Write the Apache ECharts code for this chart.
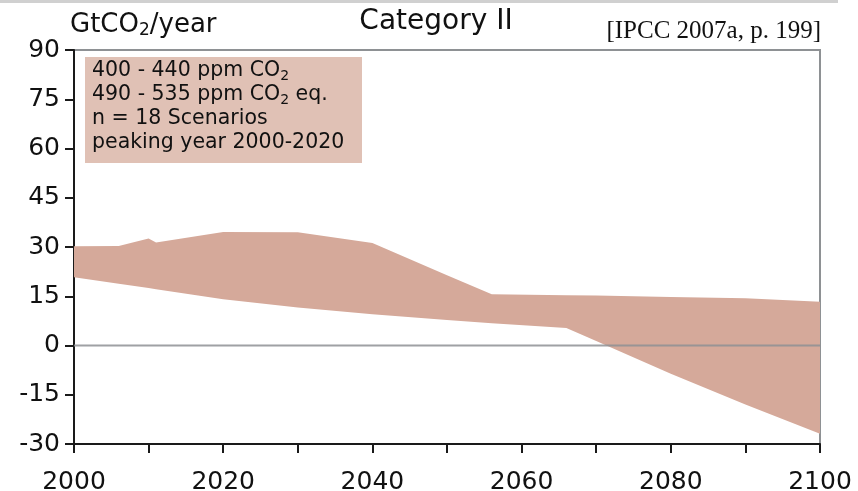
<!DOCTYPE html>
<html>
<head>
<meta charset="utf-8">
<script src="https://cdn.jsdelivr.net/npm/echarts@6/dist/echarts.min.js"></script>
<style>html,body{margin:0;padding:0;background:#fff}#c{width:858px;height:491px}</style>
</head>
<body>
<div id="c"></div>
<script>
const years = [2000, 2006, 2010, 2011, 2020, 2030, 2040, 2050, 2056, 2066, 2070, 2080, 2090, 2100];
const upper = [30.2, 30.3, 32.6, 31.4, 34.6, 34.5, 31.2, 21.4, 15.6, 15.3, 15.2, 14.8, 14.4, 13.3];
const lower = [20.8, 18.8, 17.5, 17.1, 14.1, 11.6, 9.5, 7.8, 6.8, 5.3, 1.4, -8.6, -18.0, -26.9];
const yTicks = [-30, -15, 0, 15, 30, 45, 60, 75, 90];
const xLabels = [2000, 2020, 2040, 2060, 2080, 2100];
const titleText = 'Category II';
const citation = '[IPCC 2007a, p. 199]';
const legendLines = ['400 - 440 ppm CO{s|2}', '490 - 535 ppm CO{s|2} eq.', 'n = 18 Scenarios', 'peaking year 2000-2020'];

const FONT = '"DejaVu Sans", sans-serif';
const BAND = '#d5a99a';
const bandData = years.map((y, i) => [y, lower[i], upper[i]]);

const chart = echarts.init(document.getElementById('c'), null, {renderer: 'canvas'});
chart.setOption({
  animation: false,
  grid: {left: 74, right: 38, top: 50, bottom: 47, show: true, borderColor: '#8e9194', borderWidth: 2,
    backgroundColor: 'transparent', containLabel: false, outerBoundsMode: 'none'},
  xAxis: {
    type: 'value', min: 2000, max: 2100, interval: 10,
    axisLine: {onZero: false, lineStyle: {color: '#1a1a1a', width: 2}},
    axisTick: {show: true, length: 9, lineStyle: {color: '#1a1a1a', width: 2}},
    axisLabel: {margin: 26, fontFamily: FONT, fontSize: 25, color: '#111',
      formatter: v => xLabels.includes(v) ? String(v) : ''},
    splitLine: {show: false}
  },
  yAxis: {
    type: 'value', min: yTicks[0], max: yTicks[yTicks.length - 1], interval: 15,
    axisLine: {show: true, onZero: false, lineStyle: {color: '#1a1a1a', width: 2}},
    axisTick: {show: true, length: 9, lineStyle: {color: '#1a1a1a', width: 2}},
    axisLabel: {margin: 14, fontFamily: FONT, fontSize: 25, color: '#111'},
    splitLine: {show: false}
  },
  series: [
    {
      type: 'custom', data: bandData, silent: true, z: 2,
      encode: {x: 0, y: [1, 2]},
      renderItem: function (params, api) {
        if (params.dataIndex !== 0) return null;
        const pts = [];
        for (let i = 0; i < years.length; i++) pts.push(api.coord([years[i], upper[i]]));
        for (let i = years.length - 1; i >= 0; i--) pts.push(api.coord([years[i], lower[i]]));
        return {type: 'polygon', shape: {points: pts}, style: {fill: BAND, stroke: null}};
      }
    },
    {
      type: 'line', data: [[2000, 0], [2100, 0]], symbol: 'none', silent: true, z: 3,
      lineStyle: {color: '#8e9194', width: 2, opacity: 0.85}
    }
  ],
  graphic: [
    {type: 'rect', left: 0, top: 0, shape: {width: 838, height: 3}, style: {fill: '#d0d0d0'}, z: 0},
    {type: 'text', left: 70, top: 12, z: 10,
      style: {text: 'GtCO{s|2}/year', font: '26px ' + FONT, fill: '#111',
        rich: {s: {fontSize: 17, fontFamily: FONT, padding: [12, 0, 0, 0], fill: '#111'}}}},
    {type: 'text', x: 436, y: 22, z: 10,
      style: {text: titleText, font: '28px ' + FONT, fill: '#111', align: 'center', verticalAlign: 'middle'}},
    {type: 'text', x: 821, y: 31, z: 10,
      style: {text: citation, font: '25px "Liberation Serif", "Times New Roman", serif', fill: '#111', align: 'right', verticalAlign: 'middle'}},
    {type: 'rect', x: 85, y: 57, z: 10, shape: {width: 277, height: 106}, style: {fill: '#e0c1b5'}},
    {type: 'text', x: 92, y: 59, z: 11,
      style: {text: legendLines.join('\n'), font: '20.5px ' + FONT, fill: '#111', lineHeight: 24,
        rich: {s: {fontSize: 14, fontFamily: FONT, padding: [10, 0, 0, 0], lineHeight: 24, fill: '#111'}}}}
  ]
});
</script>
</body>
</html>
